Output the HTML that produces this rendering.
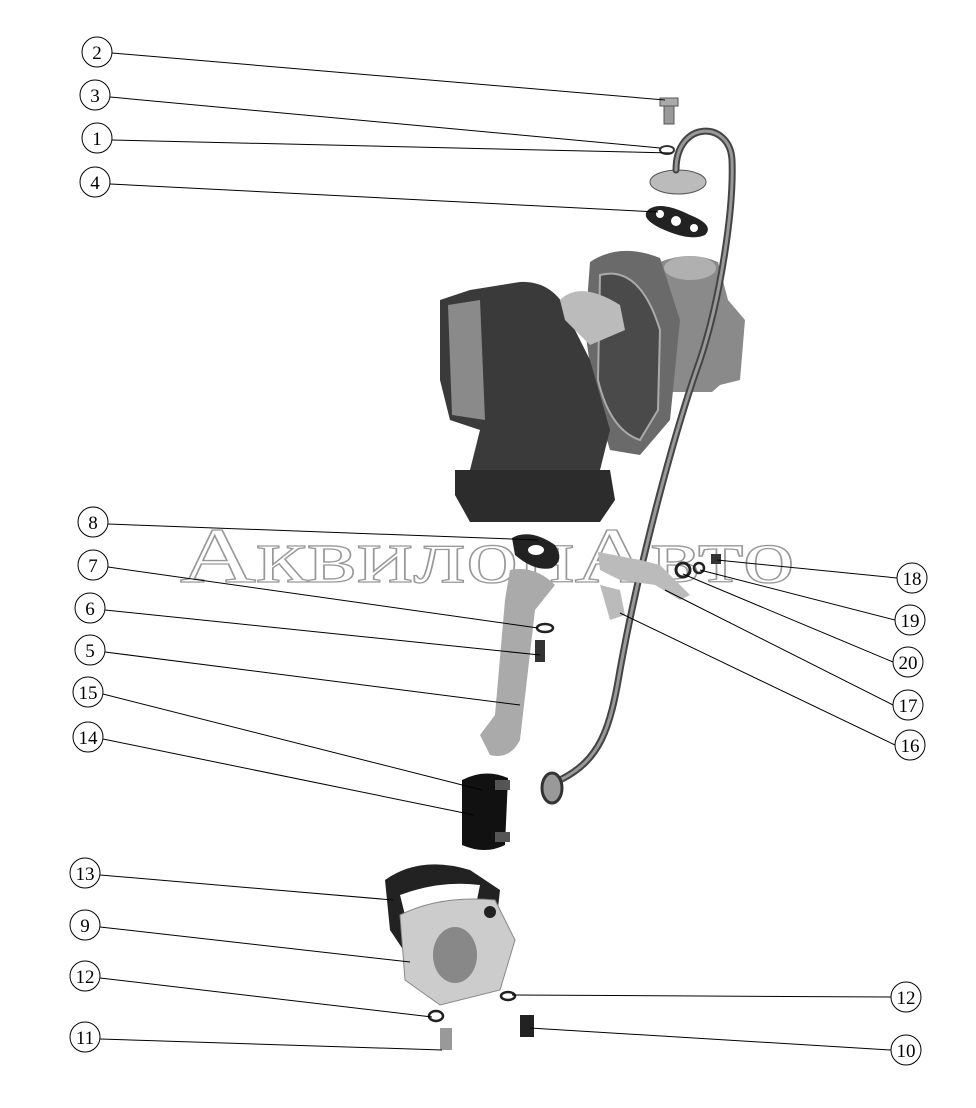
<!DOCTYPE html>
<html><head><meta charset="utf-8"><style>
html,body{margin:0;padding:0;background:#fff;}
svg{display:block;}
text{font-family:"Liberation Serif",serif;}
</style></head><body>
<svg width="976" height="1108" viewBox="0 0 976 1108" xmlns="http://www.w3.org/2000/svg">
<rect width="976" height="1108" fill="#fff"/>
<text x="180" y="582" font-family="Liberation Sans, sans-serif" font-size="78" fill="none" stroke="#999" stroke-width="1.3" textLength="615" lengthAdjust="spacingAndGlyphs">АквилонАвто</text>

<!-- flange 1 -->
<ellipse cx="678" cy="182" rx="28" ry="12" fill="#bbb" stroke="#555"/>
<rect x="664" y="102" width="10" height="22" fill="#999" stroke="#555"/>
<rect x="660" y="98" width="18" height="8" fill="#aaa" stroke="#555"/>
<ellipse cx="667" cy="150" rx="7" ry="4" fill="none" stroke="#333" stroke-width="2"/>
<path d="M648,210 Q660,200 690,215 Q715,225 705,235 Q690,242 660,228 Q640,218 648,210Z" fill="#222"/>
<circle cx="660" cy="214" r="4" fill="#fff"/><circle cx="676" cy="221" r="5" fill="#fff"/><circle cx="694" cy="228" r="4" fill="#fff"/>

<!-- turbo -->
<path d="M660,262 Q690,250 718,262 L728,300 L745,320 L740,380 L720,385 L712,392 L665,392Z" fill="#8a8a8a"/>
<ellipse cx="690" cy="268" rx="26" ry="12" fill="#b0b0b0"/>
<path d="M590,262 Q620,242 660,258 L680,320 L670,420 L640,455 L610,450 L595,400 L585,330Z" fill="#6a6a6a"/>
<path d="M600,275 Q640,265 660,330 L658,410 L640,440 Q610,430 598,380Z" fill="#4a4a4a" stroke="#aaa" stroke-width="2"/>
<path d="M440,300 L470,290 L520,282 Q560,280 575,330 L590,360 L610,430 L600,470 L470,470 L480,430 L450,420 L440,380Z" fill="#3a3a3a"/>
<path d="M448,305 L480,300 L485,420 L452,415Z" fill="#8a8a8a"/>
<path d="M455,470 L610,470 L615,500 L600,522 L470,522 L455,495Z" fill="#2c2c2c"/>
<path d="M560,300 Q580,280 620,305 L625,330 L590,345 L565,320Z" fill="#bbb"/>

<!-- oil pipe (in front) -->
<path d="M676,170 C676,120 730,120 732,160 C734,210 720,300 700,360 C675,430 640,560 620,670 C610,730 600,760 560,780" fill="none" stroke="#444" stroke-width="7" stroke-linecap="round"/>
<path d="M676,170 C676,120 730,120 732,160 C734,210 720,300 700,360 C675,430 640,560 620,670 C610,730 600,760 560,780" fill="none" stroke="#999" stroke-width="3" stroke-linecap="round"/>
<ellipse cx="552" cy="788" rx="10" ry="15" fill="#999" stroke="#333" stroke-width="3"/>

<path d="M512,538 Q530,528 555,545 Q565,560 552,568 Q535,572 515,555Z" fill="#222"/>
<ellipse cx="536" cy="550" rx="8" ry="5" fill="#fff"/>
<path d="M510,570 Q535,565 555,585 L535,610 L520,740 Q510,760 490,755 L480,735 L495,715 L505,600 Z" fill="#aaa"/>
<ellipse cx="545" cy="628" rx="8" ry="4" fill="none" stroke="#222" stroke-width="2.5"/>
<rect x="535" y="640" width="10" height="22" fill="#333"/>
<path d="M598,552 L640,560 L660,565 L690,595 L680,600 L655,585 L620,580 L600,570Z" fill="#bbb"/>
<path d="M600,585 L620,590 L625,615 L610,620 Z" fill="#bbb"/>
<circle cx="683" cy="570" r="7" fill="none" stroke="#222" stroke-width="3"/>
<circle cx="699" cy="568" r="5" fill="none" stroke="#222" stroke-width="2.5"/>
<rect x="711" y="554" width="10" height="10" fill="#333"/>
<path d="M462,780 Q485,768 508,778 L505,845 Q485,855 462,845Z" fill="#111"/>
<rect x="495" y="780" width="15" height="10" fill="#555"/>
<rect x="495" y="832" width="15" height="10" fill="#555"/>
<path d="M385,880 Q420,855 470,870 L500,890 L495,935 L410,960 L390,930Z" fill="#222"/>
<path d="M400,895 Q440,880 480,885 L470,935 L410,935Z" fill="#fff"/>
<path d="M400,915 Q440,895 495,900 L515,940 L500,990 L440,1005 L405,980Z" fill="#ccc" stroke="#888"/>
<circle cx="490" cy="912" r="6" fill="#222"/>
<ellipse cx="455" cy="955" rx="22" ry="28" fill="#888"/>
<ellipse cx="508" cy="996" rx="7" ry="4" fill="none" stroke="#222" stroke-width="2.5"/>
<ellipse cx="436" cy="1016" rx="7" ry="5" fill="none" stroke="#222" stroke-width="2.5"/>
<rect x="440" y="1028" width="12" height="22" fill="#999"/>
<rect x="520" y="1015" width="14" height="22" fill="#222"/>

<g stroke="#000" stroke-width="1" fill="none">
<line x1="112" y1="53" x2="665" y2="100"/>
<line x1="110" y1="97" x2="660" y2="148"/>
<line x1="112" y1="140" x2="672" y2="153"/>
<line x1="110" y1="184" x2="658" y2="212"/>
<line x1="108" y1="524" x2="538" y2="540"/>
<line x1="108" y1="567" x2="538" y2="628"/>
<line x1="105" y1="610" x2="540" y2="655"/>
<line x1="105" y1="652" x2="520" y2="705"/>
<line x1="103" y1="694" x2="482" y2="790"/>
<line x1="103" y1="739" x2="474" y2="815"/>
<line x1="100" y1="875" x2="393" y2="900"/>
<line x1="100" y1="927" x2="410" y2="962"/>
<line x1="100" y1="978" x2="432" y2="1017"/>
<line x1="100" y1="1039" x2="442" y2="1050"/>
<line x1="897" y1="578" x2="717" y2="560"/>
<line x1="895" y1="620" x2="700" y2="570"/>
<line x1="893" y1="662" x2="683" y2="574"/>
<line x1="893" y1="705" x2="665" y2="590"/>
<line x1="895" y1="745" x2="620" y2="613"/>
<line x1="891" y1="997" x2="512" y2="995"/>
<line x1="891" y1="1050" x2="530" y2="1028"/>
</g>
<g fill="#fff" stroke="#000" stroke-width="1">
<circle cx="97" cy="52" r="15"/><circle cx="95" cy="95" r="15"/><circle cx="97" cy="138" r="15"/><circle cx="95" cy="182" r="15"/>
<circle cx="93" cy="522" r="15"/><circle cx="93" cy="565" r="15"/><circle cx="90" cy="608" r="15"/><circle cx="90" cy="650" r="15"/>
<circle cx="88" cy="692" r="15"/><circle cx="88" cy="737" r="15"/><circle cx="85" cy="873" r="15"/><circle cx="85" cy="925" r="15"/>
<circle cx="85" cy="976" r="15"/><circle cx="85" cy="1037" r="15"/>
<circle cx="912" cy="578" r="15"/><circle cx="910" cy="620" r="15"/><circle cx="908" cy="662" r="15"/><circle cx="908" cy="705" r="15"/>
<circle cx="910" cy="745" r="15"/><circle cx="906" cy="997" r="15"/><circle cx="906" cy="1050" r="15"/>
</g>
<g font-size="19" text-anchor="middle" fill="#000">
<text x="97" y="59">2</text><text x="95" y="102">3</text><text x="97" y="145">1</text><text x="95" y="189">4</text>
<text x="93" y="529">8</text><text x="93" y="572">7</text><text x="90" y="615">6</text><text x="90" y="657">5</text>
<text x="88" y="699">15</text><text x="88" y="744">14</text><text x="85" y="880">13</text><text x="85" y="932">9</text>
<text x="85" y="983">12</text><text x="85" y="1044">11</text>
<text x="912" y="585">18</text><text x="910" y="627">19</text><text x="908" y="669">20</text><text x="908" y="712">17</text>
<text x="910" y="752">16</text><text x="906" y="1004">12</text><text x="906" y="1057">10</text>
</g>
</svg>
</body></html>
